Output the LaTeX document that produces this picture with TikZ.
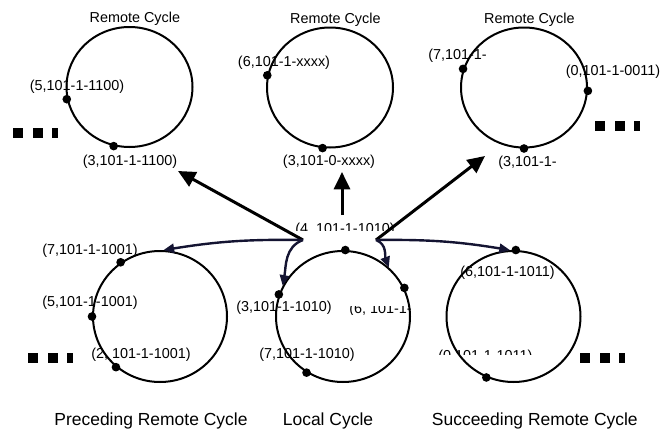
\documentclass[tikz,border=0pt]{standalone}
\usepackage{fontspec}
\setmainfont{Liberation Sans}
\usetikzlibrary{arrows.meta}
\usetikzlibrary{shapes.geometric}
\usetikzlibrary{positioning}
\definecolor{navy}{RGB}{20,20,50}
\tikzstyle{cyc} = [draw, ellipse, line width = 1.5pt, inner sep = 0pt]
\tikzstyle{remote} = [cyc, minimum width = 94.5pt, minimum height = 90pt]
\tikzstyle{ring} = [cyc, minimum width = 100.5pt, minimum height = 98.25pt]
\tikzstyle{dot} = [circle, fill, inner sep = 0pt, minimum size = 6.5pt]
\tikzstyle{lbl} = [inner sep = 0pt, font = \fontsize{10.8}{13}\selectfont]
\tikzstyle{caption} = [inner sep = 0pt, font = \fontsize{13.1}{15}\selectfont]
\tikzstyle{arrow} = [line width = 2.25pt, -{Triangle[length = 13pt, width = 12pt]}]
\tikzstyle{link} = [line width = 1.8pt, color = navy, -{Triangle[length = 8pt, width = 7pt]}]

\begin{document}
\begin{tikzpicture}[x = 0.75pt, y = -0.75pt]
	\useasboundingbox (0,0) rectangle (662,429);

		% Remote cycles (top row)
		\node[remote] (tl) at (129.5,87) {};
		\node[remote] (tm) at (330,87.5) {};
		\node[remote] (tr) at (524,87.5) {};
		\node[lbl, above = 0pt of tl, xshift = 4pt] (tltitle) {Remote Cycle};
		\node[lbl, above = 0pt of tm, xshift = 4pt] (tmtitle) {Remote Cycle};
		\node[lbl, above = 0pt of tr, xshift = 4pt] (trtitle) {Remote Cycle};
		% Dots
		\node[dot] (tl5) at (tl.191) {};
		\node[dot] (tl3) at (tl.255) {};
		\node[dot] (tm6) at (tm.169) {};
		\node[dot] (tm3) at (tm.263) {};
		\node[dot] (tr7) at (tr.163) {};
		\node[dot] (tr0) at (tr.357) {};
		\node[dot] (tr3) at (tr.270) {};
		% Labels
		\node[lbl] (tl5l) at (77,87) {(5,101-1-1100)};
		\node[lbl] (tl3l) at (130,162) {(3,101-1-1100)};
		\node[lbl] (tm6l) at (284,63) {(6,101-1-xxxx)};
		\node[lbl] (tm3l) at (329,162) {(3,101-0-xxxx)};
		\node[lbl, anchor = west] (tr7l) at (428,56) {(7,101-1-};
		\node[lbl] (tr0l) at (613,72) {(0,101-1-0011)};
		\node[lbl, anchor = west] (tr3l) at (498,163) {(3,101-1-};

		% Preceding, local and succeeding cycles (bottom row)
		\node[ring] (bl) at (160,316.5) {};
		\node[ring] (loc) at (343,316.5) {};
		\node[ring] (sr) at (513.5,316.5) {};
		% Dots
		\node[dot] (bl7) at (bl.126) {};
		\node[dot] (bl5) at (bl.180) {};
		\node[dot] (bl2) at (bl.229) {};
		\node[dot] (loc4) at (loc.88) {};
		\node[dot] (loc3) at (loc.161) {};
		\node[dot] (loc6) at (loc.25) {};
		\node[dot] (loc7) at (loc.237) {};
		\node[dot] (sr6) at (sr.88) {};
		\node[dot] (sr0) at (sr.246) {};
		% Labels
		\node[lbl] (bl7l) at (90,251) {(7,101-1-1001)};
		\node[lbl] (bl5l) at (90,303) {(5,101-1-1001)};
		\node[lbl] (bl2l) at (141,355) {(2, 101-1-1001)};
		\node[lbl] (loc3l) at (284,308) {(3,101-1-1010)};
		\node[lbl] (loc7l) at (307,355) {(7,101-1-1010)};
		\node[lbl] (sr6l) at (507.5,273) {(6,101-1-1011)};
		% Half hidden labels
		\begin{scope}
			\clip (285,212) rectangle (405,230);
			\node[lbl, anchor = base] (loc4l) at (345,233.3) {(4, 101-1-1010)};
		\end{scope}
		\begin{scope}
			\clip (340,306.5) rectangle (420,314.5);
			\node[lbl, anchor = base west] (loc6l) at (349,313.5) {(6, 101-1-};
		\end{scope}
		\begin{scope}
			\clip (430,345) rectangle (545,354.5);
			\node[lbl, anchor = base west] (sr0l) at (438,360.3) {(0,101-1-1011)};
		\end{scope}

		% Captions
		\node[caption, below = 22.5pt of bl, xshift = -6.75pt] (blcap) {Preceding Remote Cycle};
		\node[caption, below = 22.5pt of loc, xshift = -11.25pt] (loccap) {Local Cycle};
		\node[caption, below = 22.5pt of sr, xshift = 16pt] (srcap) {Succeeding Remote Cycle};

		% More cycles
		\foreach \px/\py in {13/128, 595/121, 28/353, 580/353}
			\foreach \dx/\w in {0/10, 19.5/10, 38.5/6}
				\fill (\px+\dx,\py) rectangle ++(\w,10);

		% Forks and arrow ends
		\coordinate (jl) at (303,240);
		\coordinate (jr) at (376,240);
		\coordinate (up) at (342,215);
		\coordinate (tltip) at (178,171);
		\coordinate (tmtip) at (342,172);
		\coordinate (trtip) at (485,156);

		% Connect all nodes defined above
		\draw[arrow] (jl) -- (tltip);
		\draw[arrow] (up) -- (tmtip);
		\draw[arrow] (jr) -- (trtip);
		\draw[link] (jl) to[bend right = 5] (bl.87);
		\draw[link] (jl) to[out = 200, in = 80] (loc.153);
		\draw[link] (jr) to[out = -20, in = 110] (loc.47);
		\draw[link] (jr) to[bend left = 5] (sr.93);

	\end{tikzpicture}
\end{document}
